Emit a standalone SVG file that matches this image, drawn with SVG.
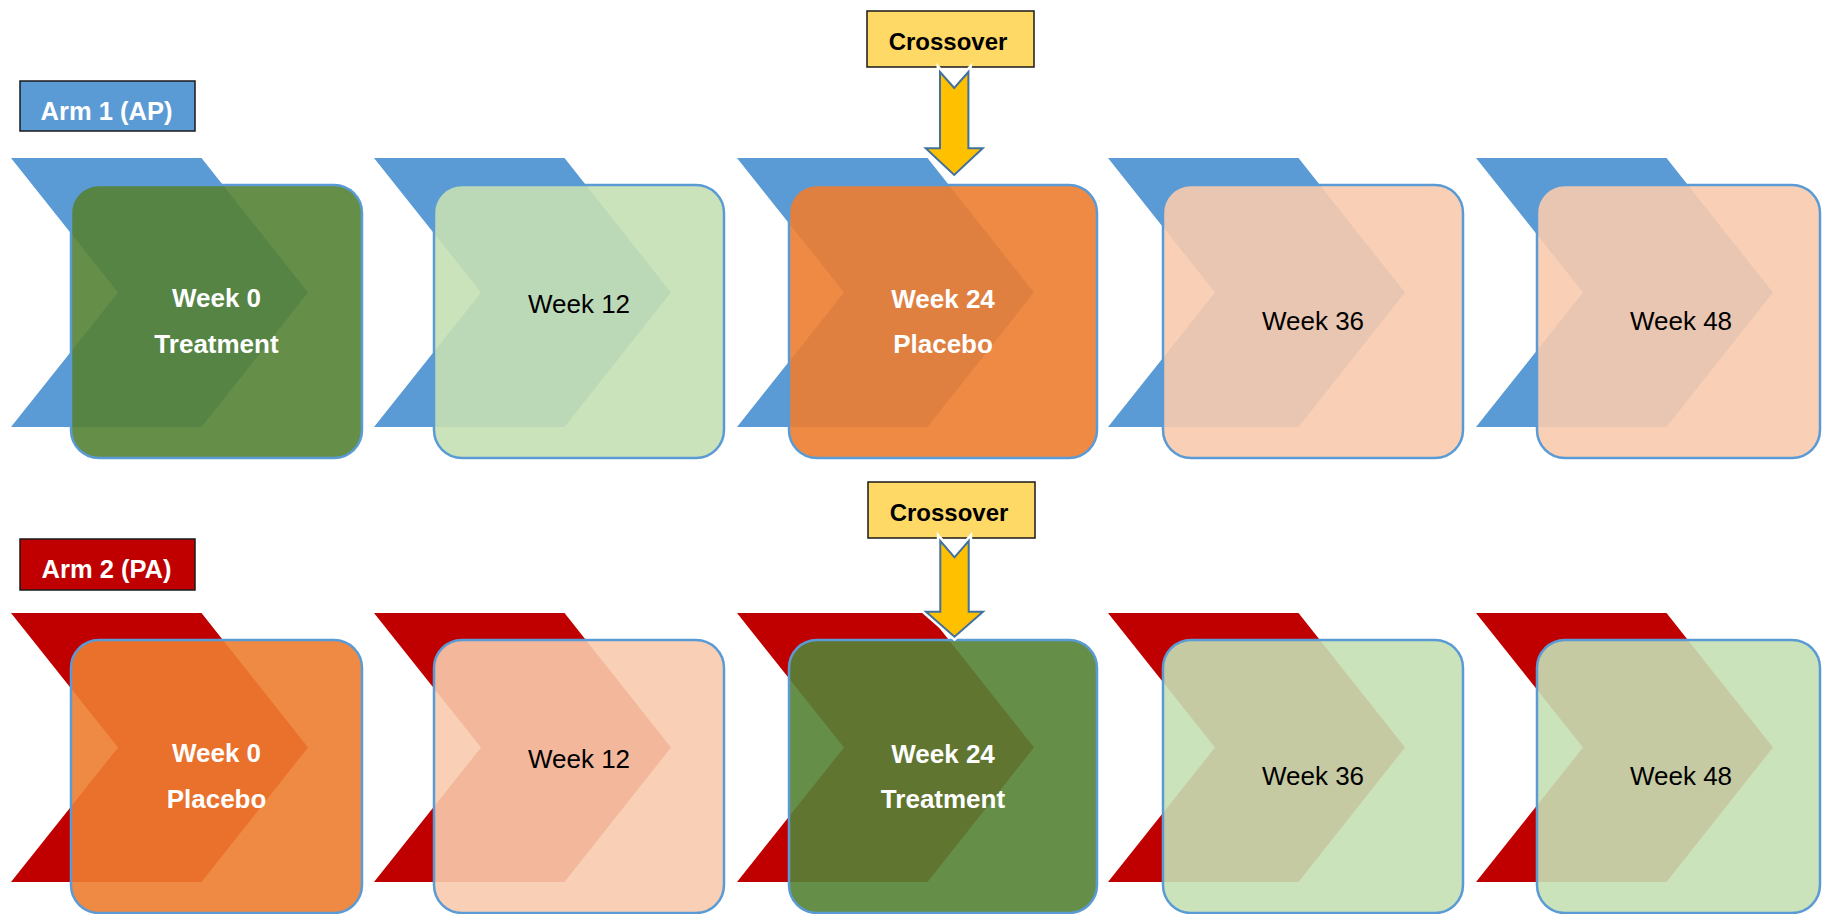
<svg xmlns="http://www.w3.org/2000/svg" width="1822" height="914" viewBox="0 0 1822 914">
<defs>
<style>
.chev-blue{fill:#5B9BD5}
.chev-red{fill:#C00000}
.box{stroke:#5B9BD5;stroke-width:2.5;fill-opacity:0.9}
.g-dark{fill:#548235}
.g-light{fill:#C5E0B4}
.o-dark{fill:#ED7D31}
.o-light{fill:#F8CBAD}
.wb{font-family:"Liberation Sans",Arial,sans-serif;font-weight:bold;font-size:26px;fill:#FFFFFF;text-anchor:middle}
.br{font-family:"Liberation Sans",Arial,sans-serif;font-size:26px;fill:#000000;text-anchor:middle}
.arm{stroke:#1A1A1A;stroke-width:1.5}
.armtxt{font-family:"Liberation Sans",Arial,sans-serif;font-weight:bold;font-size:25.5px;fill:#FFFFFF;text-anchor:middle}
.cross{fill:#FFD966;stroke:#1A1A1A;stroke-width:1.5}
.crosstxt{font-family:"Liberation Sans",Arial,sans-serif;font-weight:bold;font-size:24px;fill:#000000;text-anchor:middle}
.arrow-halo{fill:#FFFFFF;stroke:#FFFFFF;stroke-width:7;stroke-linejoin:miter}
.arrow{fill:#FFC000;stroke:#41719C;stroke-width:2;stroke-linejoin:miter}
</style>
<polygon id="chev" points="0,0 190.5,0 297,134.5 190.5,269 0,269 107,134.5"/>
</defs>
<rect width="1822" height="914" fill="#FFFFFF"/>

<g id="arm1-label">
<rect class="arm" x="20" y="81" width="175" height="50" fill="#5B9BD5"/>
<text class="armtxt" x="106.5" y="120">Arm 1 (AP)</text>
</g>
<g id="arm2-label">
<rect class="arm" x="20" y="539" width="175" height="51" fill="#C00000"/>
<text class="armtxt" x="106.5" y="578">Arm 2 (PA)</text>
</g>

<g id="crossover-1">
<rect class="cross" x="867" y="11" width="167" height="56"/>
<text class="crosstxt" x="948" y="50">Crossover</text>
</g>
<g id="crossover-2">
<rect class="cross" x="868" y="482" width="167" height="56"/>
<text class="crosstxt" x="949" y="521">Crossover</text>
</g>

<!-- Arm 1 row -->
<g id="arm1-week0">
<use href="#chev" class="chev-blue" x="11" y="158"/>
<rect class="box g-dark" x="71" y="185" width="291" height="273" rx="28"/>
<text class="wb" x="216.5" y="307">Week 0</text>
<text class="wb" x="216.5" y="352.5">Treatment</text>
</g>
<g id="arm1-week12">
<use href="#chev" class="chev-blue" x="374" y="158"/>
<rect class="box g-light" x="434" y="185" width="290" height="273" rx="28"/>
<text class="br" x="579" y="313">Week 12</text>
</g>
<g id="arm1-week24">
<use href="#chev" class="chev-blue" x="737" y="158"/>
<rect class="box o-dark" x="789" y="185" width="308" height="273" rx="28"/>
<text class="wb" x="943" y="307.5">Week 24</text>
<text class="wb" x="943" y="352.5">Placebo</text>
</g>
<g id="arm1-week36">
<use href="#chev" class="chev-blue" x="1108" y="158"/>
<rect class="box o-light" x="1163" y="185" width="300" height="273" rx="28"/>
<text class="br" x="1313" y="330">Week 36</text>
</g>
<g id="arm1-week48">
<use href="#chev" class="chev-blue" x="1476" y="158"/>
<rect class="box o-light" x="1537" y="185" width="283" height="273" rx="28"/>
<text class="br" x="1681" y="330" font-size="24">Week 48</text>
</g>

<!-- Arm 2 row -->
<g id="arm2-week0">
<use href="#chev" class="chev-red" x="11" y="613"/>
<rect class="box o-dark" x="71" y="640" width="291" height="273" rx="28"/>
<text class="wb" x="216.5" y="762">Week 0</text>
<text class="wb" x="216.5" y="807.5">Placebo</text>
</g>
<g id="arm2-week12">
<use href="#chev" class="chev-red" x="374" y="613"/>
<rect class="box o-light" x="434" y="640" width="290" height="273" rx="28"/>
<text class="br" x="579" y="768">Week 12</text>
</g>
<g id="arm2-week24">
<use href="#chev" class="chev-red" x="737" y="613"/>
<rect class="box g-dark" x="789" y="640" width="308" height="273" rx="28"/>
<text class="wb" x="943" y="762.5">Week 24</text>
<text class="wb" x="943" y="807.5">Treatment</text>
</g>
<g id="arm2-week36">
<use href="#chev" class="chev-red" x="1108" y="613"/>
<rect class="box g-light" x="1163" y="640" width="300" height="273" rx="28"/>
<text class="br" x="1313" y="785">Week 36</text>
</g>
<g id="arm2-week48">
<use href="#chev" class="chev-red" x="1476" y="613"/>
<rect class="box g-light" x="1537" y="640" width="283" height="273" rx="28"/>
<text class="br" x="1681" y="785" font-size="24">Week 48</text>
</g>

<g id="connectors">
<path class="arrow-halo" d="M940,72 L954.2,88 L968.4,72 L968.4,148.3 L982.7,148.3 L954.2,175 L925.7,148.3 L940,148.3 Z"/>
<path class="arrow" d="M940,72 L954.2,88 L968.4,72 L968.4,148.3 L982.7,148.3 L954.2,175 L925.7,148.3 L940,148.3 Z"/>
<path class="arrow-halo" d="M940.3,541 L954.5,557.3 L968.7,541 L968.7,611.7 L983,611.7 L954.5,636.7 L926,611.7 L940.3,611.7 Z"/>
<path class="arrow" d="M940.3,541 L954.5,557.3 L968.7,541 L968.7,611.7 L983,611.7 L954.5,636.7 L926,611.7 L940.3,611.7 Z"/>
</g>
</svg>
